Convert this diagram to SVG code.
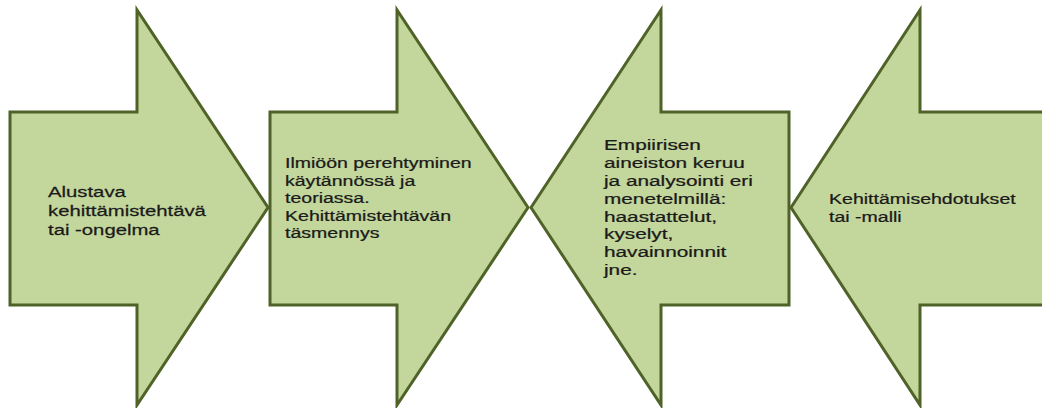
<svg xmlns="http://www.w3.org/2000/svg" width="1042" height="408" viewBox="0 0 1042 408">
<style>
.arrow{fill:#c3d69b;stroke:#4f6228;stroke-width:3;stroke-linejoin:miter}
.lbl{font-family:"Liberation Sans",Arial,sans-serif;font-size:15.5px;fill:#1a1a1a;stroke:#1a1a1a;stroke-width:0.25}
</style>
<rect width="1042" height="408" fill="#ffffff"/>
<g id="node1">
<path class="arrow" d="M10,112 H137 V10 L268,207.5 L137,405 V305 H10 Z"/>
<text class="lbl" transform="translate(48,0) scale(1.31,1)"><tspan x="0" y="197">Alustava</tspan><tspan x="0" y="216">kehittämistehtävä</tspan><tspan x="0" y="235">tai -ongelma</tspan></text>
</g>
<g id="node2">
<path class="arrow" d="M270,112 H397 V10 L528,207.5 L397,405 V305 H270 Z"/>
<text class="lbl" transform="translate(285,0) scale(1.26,1)"><tspan x="0" y="168">Ilmiöön perehtyminen</tspan><tspan x="0" y="185.6">käytännössä ja</tspan><tspan x="0" y="203.2">teoriassa.</tspan><tspan x="0" y="220.8">Kehittämistehtävän</tspan><tspan x="0" y="238.4">täsmennys</tspan></text>
</g>
<g id="node3">
<path class="arrow" d="M531,207.5 L661,10 V112 H789 V305 H661 V405 Z"/>
<text class="lbl" transform="translate(604,0) scale(1.34,1)"><tspan x="0" y="150.5">Empiirisen</tspan><tspan x="0" y="168.3">aineiston keruu</tspan><tspan x="0" y="186.1">ja analysointi eri</tspan><tspan x="0" y="203.9">menetelmillä:</tspan><tspan x="0" y="221.7">haastattelut,</tspan><tspan x="0" y="239.5">kyselyt,</tspan><tspan x="0" y="257.3">havainnoinnit</tspan><tspan x="0" y="275.1">jne.</tspan></text>
</g>
<g id="node4">
<path class="arrow" d="M791,207.5 L920,10 V112 H1050 V305 H920 V405 Z"/>
<text class="lbl" transform="translate(829,0) scale(1.26,1)"><tspan x="0" y="204">Kehittämisehdotukset</tspan><tspan x="0" y="222.5">tai -malli</tspan></text>
</g>
<g id="connectors"></g>
</svg>
